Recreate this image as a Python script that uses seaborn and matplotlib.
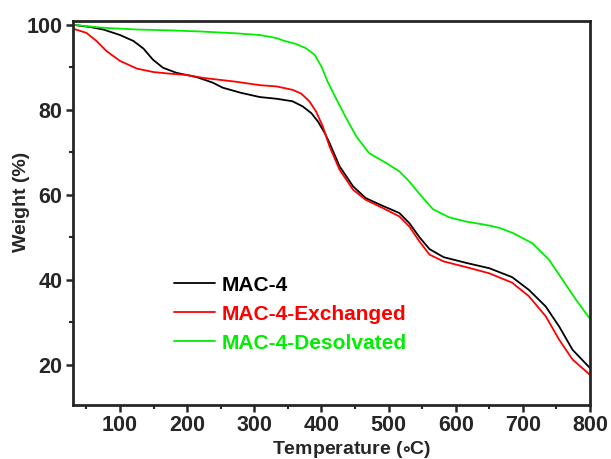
import numpy as np
import pandas as pd
import matplotlib
matplotlib.use("Agg")
import matplotlib.pyplot as plt
import seaborn as sns
from matplotlib.ticker import MultipleLocator

# Data (temperature in °C, weight in %)
t_mac4 = [30, 55, 75, 100, 120, 135, 149, 164, 184, 214, 238, 253, 280, 308, 333, 357, 372,
          385, 395, 405, 412, 427, 447, 466, 491, 516, 531, 546, 561, 582, 617, 650, 684,
          709, 734, 754, 774, 800]
w_mac4 = [100, 99.5, 98.9, 97.6, 96.2, 94.4, 91.8, 89.9, 88.7, 87.7, 86.4, 85.2, 84.0, 83, 82.6, 82, 80.8,
          79.2, 77.2, 74.5, 72.2, 66.7, 62, 59.2, 57.4, 55.7, 53.3, 50, 47.2, 45.3, 43.9, 42.7, 40.6,
          37.6, 33.7, 29, 23.5, 19.2]

t_exch = [30, 50, 65, 80, 100, 125, 149, 174, 199, 224, 273, 308, 333, 357, 370, 382, 392,
          402, 412, 427, 447, 466, 491, 516, 531, 546, 561, 582, 617, 650, 684, 709, 734,
          754, 774, 800]
w_exch = [99.1, 98.1, 96.2, 93.8, 91.5, 89.7, 88.9, 88.5, 88.2, 87.5, 86.6, 85.8, 85.5, 84.7, 83.8, 82, 79.6,
          76.1, 71.4, 65.9, 61.2, 58.8, 56.9, 54.9, 52.5, 49, 45.9, 44.3, 42.9, 41.5, 39.3, 36.1, 31.4,
          25.9, 21.2, 17.6]

t_desolv = [30, 75, 125, 174, 224, 273, 308, 333, 343, 362, 377, 390, 400, 409, 422, 437,
            452, 471, 496, 516, 531, 546, 566, 590, 615, 645, 665, 685, 714, 739, 759, 779, 800]
w_desolv = [100, 99.3, 98.9, 98.7, 98.4, 98, 97.6, 96.9, 96.3, 95.5, 94.5, 92.9, 90.2, 86.7, 82.6, 78,
            73.7, 69.8, 67.5, 65.5, 63.1, 60.2, 56.6, 54.7, 53.7, 52.9, 52.2, 51, 48.6, 44.7, 40, 35.3, 30.8]

labels = ["MAC-4", "MAC-4-Exchanged", "MAC-4-Desolvated"]
colors = ["#000000", "#FF0000", "#00EE00"]

frames = []
for lab, t, w in zip(labels, [t_mac4, t_exch, t_desolv], [w_mac4, w_exch, w_desolv]):
    frames.append(pd.DataFrame({"T": t, "W": w, "sample": lab}))
df = pd.concat(frames, ignore_index=True)

sns.set_style("ticks")
plt.rcParams['font.family'] = ['Liberation Sans', 'DejaVu Sans']
plt.rcParams['font.weight'] = 'bold'
plt.rcParams['mathtext.default'] = 'regular'

fig = plt.figure(figsize=(6.11, 4.59), dpi=100)
ax = fig.add_axes([73/611, 1 - 405/459, (590-73)/611, (405-21)/459])

sns.lineplot(data=df, x="T", y="W", hue="sample", palette=colors, hue_order=labels,
             ax=ax, linewidth=1.3, estimator=None, sort=True)

ax.set_xlim(30, 800)
ax.set_ylim(10.5, 100.9)
ax.xaxis.set_major_locator(MultipleLocator(100))
ax.xaxis.set_minor_locator(MultipleLocator(50))
ax.yaxis.set_major_locator(MultipleLocator(20))
ax.yaxis.set_minor_locator(MultipleLocator(10))
ax.tick_params(which='major', direction='out', length=5, width=1.8, labelsize=15.5, pad=2.5)
ax.tick_params(which='minor', direction='out', length=3, width=1.5)
for lbl in ax.get_xticklabels() + ax.get_yticklabels():
    lbl.set_fontweight('bold')
for s in ax.spines.values():
    s.set_linewidth(2)
    s.set_visible(True)

ax.set_xlabel("Temperature ($\\circ$C)", fontsize=14, fontweight='bold')
ax.set_ylabel("Weight (%)", fontsize=14, fontweight='bold')
ax.xaxis.set_label_coords(0.539, -0.088)
ax.yaxis.set_label_coords(-0.083, 0.53)

leg = ax.legend(loc='upper left', bbox_to_anchor=(0.195, 0.337), frameon=False,
                fontsize=15, labelcolor='linecolor', handlelength=2.0, handletextpad=0.3,
                labelspacing=0.48, borderaxespad=0, borderpad=0)
for txt in leg.get_texts():
    txt.set_fontweight('bold')

fig.savefig("out.png", dpi=100)
